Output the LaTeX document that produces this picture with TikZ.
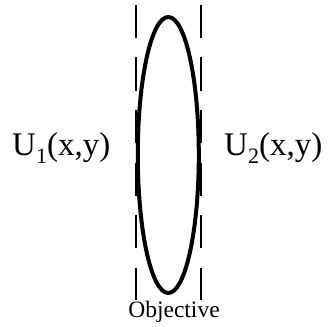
\documentclass[tikz,border=0pt]{standalone}
\usetikzlibrary{shapes.geometric}
\usepackage{fontspec}
\setmainfont{Liberation Serif}
\newcommand{\lowsub}[1]{\raisebox{-8pt}{\fontsize{22}{24}\selectfont #1}}
\begin{document}
\begin{tikzpicture}[x=1pt,y=-1pt,
  dashline/.style={line width=2pt,dash pattern=on 33pt off 19.5pt},
  lens/.style={line width=4pt},
  lbl/.style={font=\fontsize{33}{36}\selectfont,inner sep=0pt,anchor=base west},
  captext/.style={font=\fontsize{23.5}{25}\selectfont,inner sep=0pt,anchor=base}]
\useasboundingbox (0,0) rectangle (328,326);
\coordinate (lt) at (135.7,5);
\coordinate (lb) at (135.7,300);
\coordinate (rt) at (201,5);
\coordinate (rb) at (201,300);
\draw[dashline] (lt) -- (lb);
\draw[dashline] (rt) -- (rb);
\node[lens,draw,ellipse,minimum width=61pt,minimum height=276pt,inner sep=0pt] (obj) at (168.3,155) {};
\node[lbl] (u1) at (12,155) {U\lowsub{1}(x,y)};
\node[lbl] (u2) at (224,155) {U\lowsub{2}(x,y)};
\node[captext] (t) at (174,317) {Objective};
\end{tikzpicture}
\end{document}
